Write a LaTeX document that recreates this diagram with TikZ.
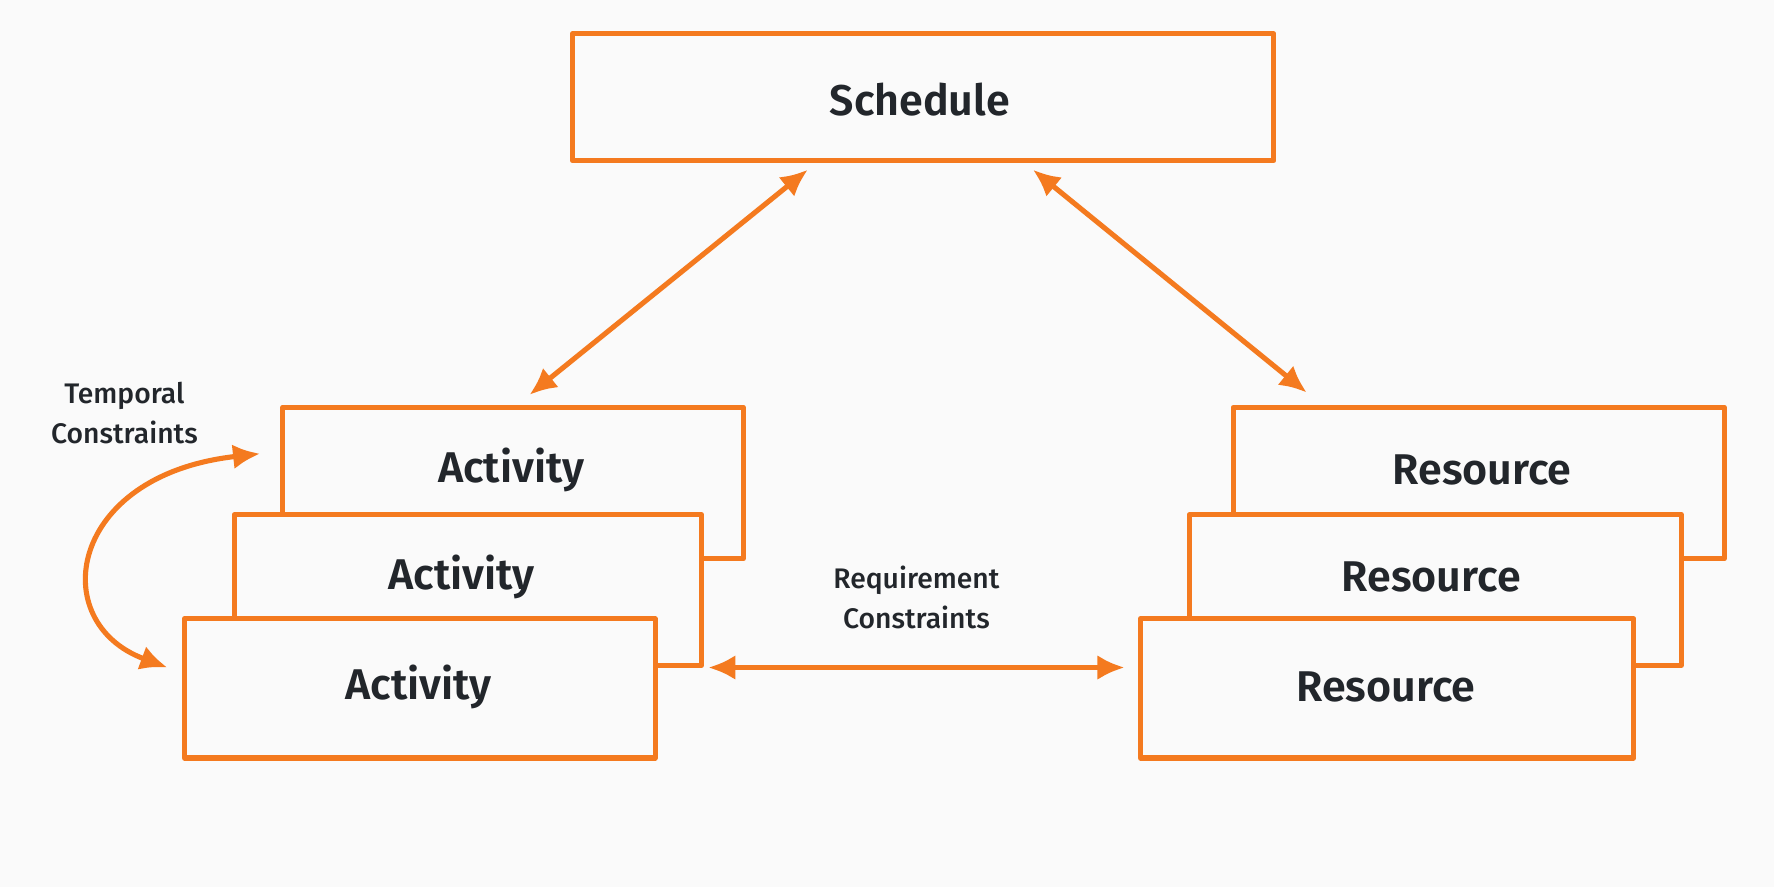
\documentclass[tikz,border=0pt]{standalone}
\usepackage{fontspec}
\setmainfont{Fira Sans}[Ligatures=NoCommon,UprightFont=*-Medium,BoldFont=*-SemiBold]
\usetikzlibrary{arrows.meta}
\definecolor{org}{HTML}{F47A1F}
\definecolor{bg}{HTML}{FAFAFA}
\definecolor{txt}{HTML}{22262B}
\begin{document}
\begin{tikzpicture}[x=1pt,y=-1pt,
  box/.style={draw=org,line width=4.5pt,fill=bg,line join=round},
  lbl/.style={text=txt,font=\bfseries\fontsize{38}{44}\selectfont},
  small/.style={text=txt,font=\fontsize{25}{36}\selectfont,align=center},
  arr/.style={draw=org,line width=4.5pt,{Latex[length=24pt,width=22pt]}-{Latex[length=24pt,width=22pt]}}]
\useasboundingbox[fill=bg] (0,0) rectangle (1568,784);
\draw[box] (506,30) rectangle (1126,142);
\node[lbl] (sch) at (813,88) {Schedule};
% activities
\draw[box] (250,360) rectangle (657,494);
\node[lbl] (a1) at (452,415) {Activity};
\draw[box] (207,455) rectangle (620,588);
\node[lbl] (a2) at (408,510) {Activity};
\draw[box] (163,547) rectangle (579,670);
\node[lbl] (a3) at (370,607) {Activity};
% resources
\draw[box] (1090,360) rectangle (1524,494);
\node[lbl] (r1) at (1310,415) {Resource};
\draw[box] (1051,455) rectangle (1486,588);
\node[lbl] (r2) at (1265,510) {Resource};
\draw[box] (1008,547) rectangle (1444,670);
\node[lbl] (r3) at (1225,607) {Resource};
% arrows
\coordinate (s1) at (714,150);
\coordinate (s2) at (468,349);
\coordinate (s3) at (913,150);
\coordinate (s4) at (1155,347);
\coordinate (q1) at (626,590);
\coordinate (q2) at (994,590);
\coordinate (t1) at (230,401);
\coordinate (t2) at (148,590);
\draw[arr] (s1) -- (s2);
\draw[arr] (s3) -- (s4);
\draw[arr] (q1) -- (q2);
\draw[arr] (t1) .. controls (60,420) and (40,550) .. (t2);
\node[small] (tl) at (110,365) {Temporal\\Constraints};
\node[small] (rl) at (810,528) {Requirement\\Constraints};
\end{tikzpicture}
\end{document}
